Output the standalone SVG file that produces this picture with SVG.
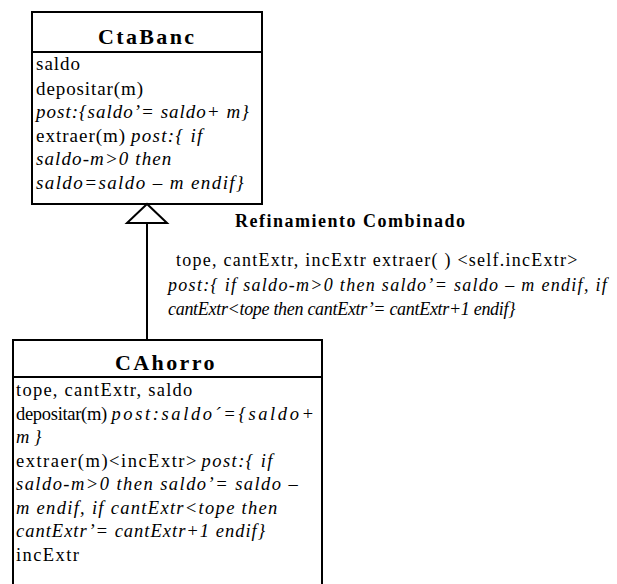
<svg xmlns="http://www.w3.org/2000/svg" width="617" height="584" viewBox="0 0 617 584">
<rect width="617" height="584" fill="#fff"/>
<g id="CtaBanc">
<rect x="32" y="12" width="230" height="192" fill="#fff" stroke="#000" stroke-width="2"/>
<line x1="32" y1="52" x2="262" y2="52" stroke="#000" stroke-width="2"/>
<text font-family="Liberation Serif" font-size="22" font-weight="bold" x="98" y="44" letter-spacing="2.35">CtaBanc</text>
<text font-family="Liberation Serif" font-size="19" x="36" y="70" letter-spacing="1">saldo</text>
<text font-family="Liberation Serif" font-size="19" x="36" y="95" letter-spacing="0.9">depositar(m)</text>
<text font-family="Liberation Serif" font-size="19" font-style="italic" x="36" y="118" letter-spacing="1">post:{saldo’= saldo+ m}</text>
<text font-family="Liberation Serif" font-size="19" x="36" y="142" letter-spacing="1">extraer(m)</text>
<text font-family="Liberation Serif" font-size="19" font-style="italic" x="131" y="142" letter-spacing="1.3">post:{ if</text>
<text font-family="Liberation Serif" font-size="19" font-style="italic" x="36" y="165" letter-spacing="1.1">saldo-m&gt;0 then</text>
<text font-family="Liberation Serif" font-size="19" font-style="italic" x="36" y="189" letter-spacing="1.4">saldo=saldo – m endif}</text>
</g>
<g id="CAhorro">
<rect x="13" y="340" width="309" height="270" fill="#fff" stroke="#000" stroke-width="2"/>
<line x1="13" y1="377" x2="322" y2="377" stroke="#000" stroke-width="2"/>
<text font-family="Liberation Serif" font-size="22" font-weight="bold" x="115" y="370" letter-spacing="2.4">CAhorro</text>
<text font-family="Liberation Serif" font-size="18.5" x="16" y="396" letter-spacing="1.25">tope, cantExtr, saldo</text>
<text font-family="Liberation Serif" font-size="18.5" x="16" y="420" letter-spacing="-0.3">depositar(m)</text>
<text font-family="Liberation Serif" font-size="18.5" font-style="italic" x="111.5" y="420" letter-spacing="2.6">post:saldo´={saldo+</text>
<text font-family="Liberation Serif" font-size="18.5" font-style="italic" x="16" y="443">m }</text>
<text font-family="Liberation Serif" font-size="18.5" x="16" y="467" letter-spacing="1.5">extraer(m)&lt;incExtr&gt;</text>
<text font-family="Liberation Serif" font-size="18.5" font-style="italic" x="201.5" y="467" letter-spacing="1.45">post:{ if</text>
<text font-family="Liberation Serif" font-size="18.5" font-style="italic" x="16" y="490" letter-spacing="1.45">saldo-m&gt;0 then saldo’= saldo –</text>
<text font-family="Liberation Serif" font-size="18.5" font-style="italic" x="16" y="514" letter-spacing="1.3">m endif, if cantExtr&lt;tope then</text>
<text font-family="Liberation Serif" font-size="18.5" font-style="italic" x="16" y="537" letter-spacing="1">cantExtr’= cantExtr+1 endif}</text>
<text font-family="Liberation Serif" font-size="18.5" x="16" y="561" letter-spacing="1.4">incExtr</text>
</g>
<g id="connectors">
<line x1="147" y1="340" x2="147" y2="223" stroke="#000" stroke-width="2"/>
<polygon points="147,204 127,223 167,223" fill="#fff" stroke="#000" stroke-width="2"/>
<text font-family="Liberation Serif" font-size="18" font-weight="bold" x="235" y="227" letter-spacing="1.5">Refinamiento Combinado</text>
<text font-family="Liberation Serif" font-size="18" x="176" y="266" letter-spacing="1.25">tope, cantExtr, incExtr extraer( ) &lt;self.incExtr&gt;</text>
<text font-family="Liberation Serif" font-size="18" font-style="italic" x="168" y="291" letter-spacing="1.3">post:{ if saldo-m&gt;0 then saldo’= saldo – m endif, if</text>
<text font-family="Liberation Serif" font-size="18" font-style="italic" x="168" y="315" letter-spacing="-0.3">cantExtr&lt;tope then cantExtr’= cantExtr+1 endif}</text>
</g>
</svg>
